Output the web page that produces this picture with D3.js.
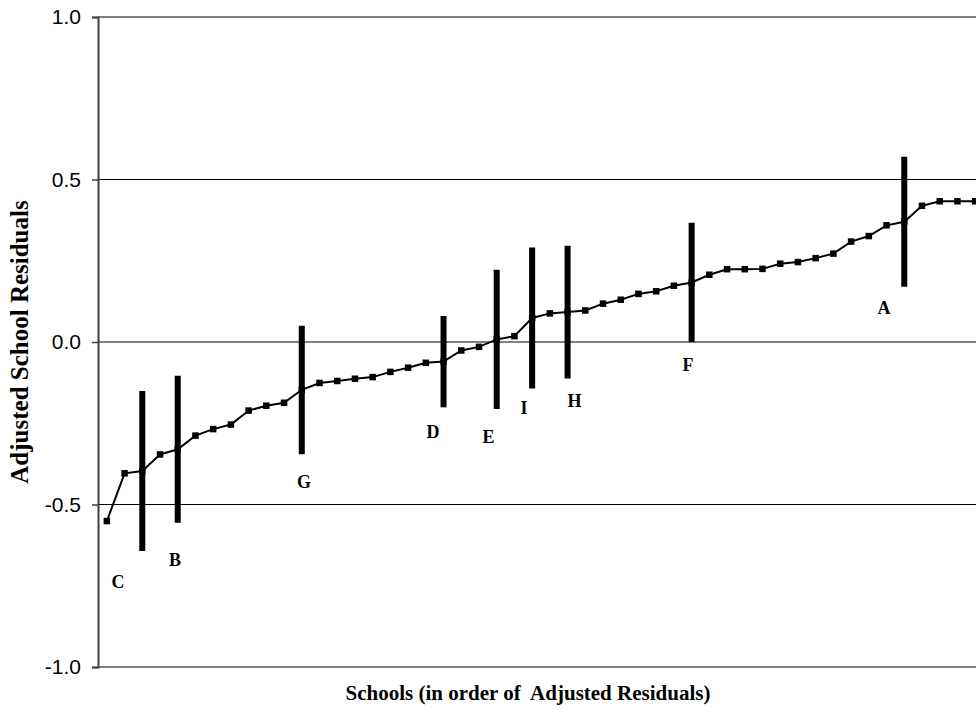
<!DOCTYPE html>
<html>
<head>
<meta charset="utf-8">
<script src="https://cdn.jsdelivr.net/npm/d3@7"></script>
<style>
  html, body { margin: 0; padding: 0; background: #ffffff; }
  svg { display: block; }
</style>
</head>
<body>
<svg id="chart" width="976" height="710"></svg>
<script>
// Adjusted school residuals, schools ranked from lowest to highest
const residuals = [
  -0.551, -0.404, -0.397, -0.346, -0.330, -0.288, -0.268, -0.254, -0.211, -0.196,
  -0.187, -0.147, -0.126, -0.120, -0.113, -0.108, -0.092, -0.079, -0.064, -0.060,
  -0.026, -0.015,  0.008,  0.018,  0.074,  0.088,  0.092,  0.097,  0.118,  0.130,
   0.148,  0.156,  0.173,  0.183,  0.207,  0.224,  0.224,  0.225,  0.241,  0.246,
   0.258,  0.272,  0.309,  0.326,  0.359,  0.370,  0.419,  0.433,  0.433,  0.433
];
const schoolRank = residuals.map((_, i) => i + 1);

// Interval bars for the highlighted schools (rank, lower, upper)
const barLetters = ["C", "B", "G", "D", "E", "I", "H", "F", "A"];
const barRanks   = [3, 5, 12, 20, 23, 25, 27, 34, 46];
const barLower   = [-0.643, -0.556, -0.345, -0.201, -0.206, -0.143, -0.112, 0.000, 0.170];
const barUpper   = [-0.151, -0.104,  0.050,  0.080,  0.222,  0.291,  0.296, 0.367, 0.570];

// Letter anchors, in rank units and residual units
const letterRank  = [1.63, 4.85, 12.13, 19.41, 22.54, 24.54, 27.39, 33.80, 44.86];
const letterValue = [-0.757, -0.689, -0.449, -0.295, -0.311, -0.222, -0.200, -0.089, 0.086];

const yTicks = [-1.0, -0.5, 0.0, 0.5, 1.0];
const yTitle = "Adjusted School Residuals";
const xTitle = "Schools (in order of  Adjusted Residuals)";

const svg = d3.select("#chart");
const plotLeft = 98, plotTop = 17, plotBottom = 667, plotRight = 984;

const x = d3.scaleLinear().domain([0.5, residuals.length + 0.5]).range([plotLeft, plotRight]);
const y = d3.scaleLinear().domain([-1, 1]).range([plotBottom, plotTop]);

// Horizontal rules
svg.append("g").selectAll("line")
  .data(yTicks)
  .join("line")
  .attr("x1", plotLeft).attr("x2", plotRight)
  .attr("y1", d => y(d)).attr("y2", d => y(d))
  .attr("stroke", d => (d === 0.5 || d === -0.5) ? "#000000" : "#808080")
  .attr("stroke-width", d => (Math.abs(d) === 1) ? 2 : 1.5)
  .attr("shape-rendering", "crispEdges");

// Y axis
const yAxis = svg.append("g")
  .attr("transform", `translate(${plotLeft},0)`)
  .call(d3.axisLeft(y)
    .tickValues(yTicks)
    .tickFormat(d => d.toFixed(1))
    .tickSize(6)
    .tickPadding(11));
yAxis.select(".domain").attr("stroke", "#404040").attr("stroke-width", 2);
yAxis.selectAll(".tick line").attr("stroke", "#404040").attr("stroke-width", 1.5);
yAxis.selectAll(".tick text")
  .attr("font-family", "Liberation Sans, Arial, sans-serif")
  .attr("font-size", 21)
  .attr("fill", "#000");

// Residual line and square markers
const line = d3.line().x((d, i) => x(schoolRank[i])).y(d => y(d));
svg.append("path")
  .datum(residuals)
  .attr("fill", "none")
  .attr("stroke", "#000")
  .attr("stroke-width", 2)
  .attr("d", line);

const m = 6.5;
svg.append("g").selectAll("rect")
  .data(residuals)
  .join("rect")
  .attr("x", (d, i) => x(schoolRank[i]) - m / 2)
  .attr("y", d => y(d) - m / 2)
  .attr("width", m)
  .attr("height", m)
  .attr("fill", "#000");

// Interval bars
svg.append("g").selectAll("line")
  .data(barRanks)
  .join("line")
  .attr("x1", d => x(d)).attr("x2", d => x(d))
  .attr("y1", (d, i) => y(barUpper[i]))
  .attr("y2", (d, i) => y(barLower[i]))
  .attr("stroke", "#000")
  .attr("stroke-width", 6);

// Letters
svg.append("g").selectAll("text")
  .data(barLetters)
  .join("text")
  .attr("x", (d, i) => x(letterRank[i]))
  .attr("y", (d, i) => y(letterValue[i]))
  .attr("text-anchor", "middle")
  .attr("font-family", "Liberation Serif, 'Times New Roman', serif")
  .attr("font-weight", "bold")
  .attr("font-size", 18)
  .text(d => d);

// Axis titles
svg.append("text")
  .attr("transform", `translate(28,342) rotate(-90)`)
  .attr("text-anchor", "middle")
  .attr("font-family", "Liberation Serif, 'Times New Roman', serif")
  .attr("font-weight", "bold")
  .attr("font-size", 25)
  .text(yTitle);

svg.append("text")
  .attr("x", 528)
  .attr("y", 700)
  .attr("text-anchor", "middle")
  .attr("font-family", "Liberation Serif, 'Times New Roman', serif")
  .attr("font-weight", "bold")
  .attr("font-size", 21)
  .style("white-space", "pre")
  .text(xTitle);
</script>
</body>
</html>
